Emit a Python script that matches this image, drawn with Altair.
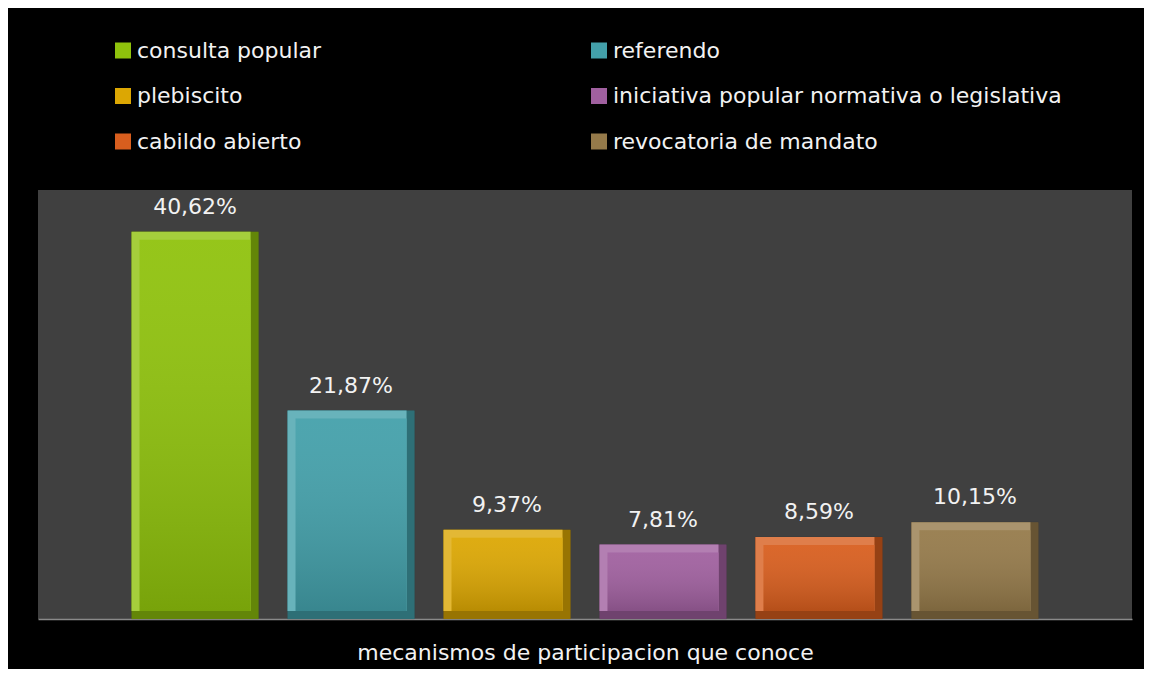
import altair as alt
import pandas as pd

categories = [
    "consulta popular",
    "referendo",
    "plebiscito",
    "iniciativa popular normativa o legislativa",
    "cabildo abierto",
    "revocatoria de mandato",
]
values = [40.62, 21.87, 9.37, 7.81, 8.59, 10.15]
colors = ["#8fc20c", "#43a0aa", "#dca703", "#a0609f", "#d85e1e", "#957a4a"]

# legend is filled column by column: reorder so rows read like the reference
legend_order = [0, 2, 4, 1, 3, 5]
legend_domain = [categories[i] for i in legend_order]
legend_range = [colors[i] for i in legend_order]

Y_MAX = 45.0
PLOT_H = 429
BEV = 8
BEVU = BEV * Y_MAX / PLOT_H  # bevel thickness in data units

df = pd.DataFrame({
    "cat": categories,
    "val": values,
    "label": [f"{v:.2f}".replace(".", ",") + "%" for v in values],
})

FONT = "DejaVu Sans"
BAND = 127

x_enc = alt.X(
    "cat:N",
    sort=None,
    scale=alt.Scale(paddingInner=0.186, paddingOuter=0.6),
    axis=alt.Axis(
        title="mecanismos de participacion que conoce",
        labels=False, ticks=False, grid=False, domain=True,
        domainColor="#8a8a8a", domainWidth=1.5,
        titleFont=FONT, titleFontSize=22, titleFontWeight="normal",
        titleColor="#f2f2f2", titlePadding=40, titleBaseline="alphabetic",
    ),
)
y_scale = alt.Scale(domain=[0, Y_MAX], nice=False)
color_enc = alt.Color(
    "cat:N",
    scale=alt.Scale(domain=legend_domain, range=legend_range),
    legend=alt.Legend(
        orient="none", legendX=74, legendY=-150.5, columns=2,
        columnPadding=266, rowPadding=23.5, padding=0,
        symbolType="square", symbolSize=256, symbolStrokeWidth=0,
        labelFont=FONT, labelFontSize=22, labelColor="#f2f2f2",
        labelOffset=3, labelLimit=600, title=None,
    ),
)

base = alt.Chart(df).transform_calculate(
    top_in="datum.val - %f" % BEVU,
    bev="%f" % BEVU,
    zero="0",
)

def yy(field):
    return alt.Y(field, type="quantitative", scale=y_scale, axis=None)

def yy2(field):
    return alt.Y2(field)

outer = base.mark_bar(width=BAND).encode(
    x=x_enc, y=yy("val"), y2=yy2("zero"), color=color_enc)
outer_dark = base.mark_bar(width=BAND, color="black", opacity=0.3,
                           stroke="black", strokeOpacity=0.35, strokeWidth=1).encode(
    x=x_enc, y=yy("val"), y2=yy2("zero"))
light = base.mark_bar(width=BAND - BEV, xOffset=-BEV / 2).encode(
    x=x_enc, y=yy("val"), y2=yy2("bev"), color=color_enc)
light_ov = base.mark_bar(width=BAND - BEV, xOffset=-BEV / 2,
                         color="white", opacity=0.2).encode(
    x=x_enc, y=yy("val"), y2=yy2("bev"))
face = base.mark_bar(width=BAND - 2 * BEV).encode(
    x=x_enc, y=yy("top_in"), y2=yy2("bev"), color=color_enc)
face_ov = base.mark_bar(
    width=BAND - 2 * BEV,
    color=alt.Gradient(
        gradient="linear",
        stops=[
            alt.GradientStop(color="rgba(255,255,255,0.06)", offset=0),
            alt.GradientStop(color="rgba(0,0,0,0.16)", offset=1),
        ],
        x1=0, x2=0, y1=0, y2=1,
    ),
).encode(x=x_enc, y=yy("top_in"), y2=yy2("bev"))

labels = base.mark_text(
    dy=-18, baseline="alphabetic", align="center",
    font=FONT, fontSize=22, color="#f2f2f2",
).encode(x=x_enc, y=yy("val"), text="label:N")

chart = (
    alt.layer(outer, outer_dark, light, light_ov, face, face_ov, labels)
    .properties(
        width=1094, height=PLOT_H,
        autosize=alt.AutoSizeParams(type="none"),
        padding={"left": 30, "top": 182, "right": 12, "bottom": 50},
        background="black",
    )
    .configure_view(fill="#404040", strokeWidth=0)
)

chart.save("out.html", embed_options={"renderer": "svg", "actions": False})
